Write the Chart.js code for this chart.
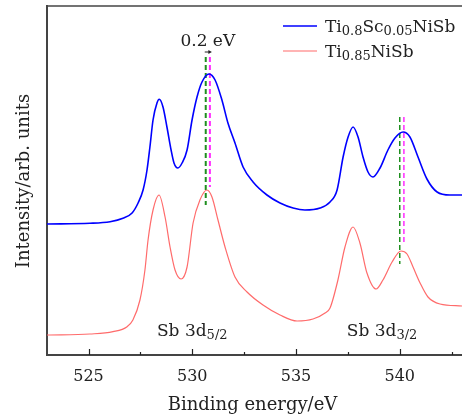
<!DOCTYPE html>
<html>
<head>
<meta charset="utf-8">
<script src="https://cdn.jsdelivr.net/npm/chart.js@4.4.0/dist/chart.umd.min.js"></script>
<style>
  html, body { margin: 0; padding: 0; background: #fff; }
</style>
</head>
<body>
<canvas id="chart" width="462" height="416"></canvas>
<script>
// Sb 3d XPS spectra (intensity in arbitrary units)
const blueEnergy = [523.00, 525.07, 526.04, 526.66, 527.10, 527.39, 527.63, 527.82, 527.96, 528.11,
    528.30, 528.41, 528.59, 528.78, 528.98, 529.12, 529.31, 529.51, 529.75, 529.99,
    530.23, 530.47, 530.81, 531.10, 531.43, 531.72, 532.06, 532.45, 532.93, 533.60,
    534.23, 534.86, 535.43, 536.16, 536.64, 536.98, 537.27, 537.51, 537.75, 537.99,
    538.23, 538.47, 538.71, 539.05, 539.43, 539.77, 540.16, 540.49, 540.88, 541.31,
    541.80, 542.42, 543.00]
const blueIntensity = [131, 131.7, 133.3, 136.7, 142, 152, 165, 185, 208, 235,
    252, 255.7, 248, 228, 205, 192, 187, 192, 205, 235,
    258, 273, 281, 275, 255, 232, 212, 188, 173, 160,
    152, 147, 145, 147, 153, 165, 198, 218, 228, 218,
    198, 183, 178, 187, 205, 217, 223, 218, 198, 176,
    163, 160, 160]

const redEnergy = [523.00, 525.07, 526.18, 526.86, 527.14, 527.48, 527.72, 527.87, 528.11, 528.40,
    528.69, 528.93, 529.17, 529.46, 529.75, 530.04, 530.37, 530.71, 530.95, 531.24,
    531.58, 532.06, 532.64, 533.41, 534.23, 535.05, 535.82, 536.40, 536.64, 537.02,
    537.36, 537.75, 538.08, 538.42, 538.86, 539.19, 539.63, 540.06, 540.35, 540.64,
    540.98, 541.36, 541.94, 543.00]
const redIntensity = [20, 21, 23.3, 28.3, 35, 55, 85, 115, 145, 160,
    138, 108, 85, 76, 88, 132, 155, 165, 158, 135,
    108, 78, 63, 50, 40, 34, 36, 42, 47, 75,
    108, 128, 112, 82, 66, 75, 93, 104, 101, 88,
    72, 58, 51, 49]

// peak markers: [3d5/2, 3d3/2]
const greenPeak = [530.65, 540.0]
const pinkPeak = [530.85, 540.2]
const markerTop = [298, 238]
const greenBottom = [150, 91]
const pinkBottom = [168, 111]

const majorTicks = [525, 530, 535, 540]
const minorTicks = [527.5, 532.5, 537.5, 542.5]

const serif = "'DejaVu Serif', serif"
const blue = '#0000ff'
const red = '#ff6b6b'
const green = '#1f8f1f'
const pink = '#ff2bff'

function points(xs, ys) {
    return xs.map((x, i) => ({ x: x, y: ys[i] }))
}

function marker(e, top, bottom, color, width) {
    return {
        data: [{ x: e, y: top }, { x: e, y: bottom }],
        borderColor: color,
        borderWidth: width,
        borderDash: [5, 3],
        pointRadius: 0,
        fill: false,
    }
}

// draws text with subscripts: parts = [[text, isSub], ...]
function richText(ctx, parts, x, y, size, align) {
    const subSize = Math.round(size * 0.74)
    let total = 0
    parts.forEach(([t, sub]) => {
        ctx.font = (sub ? subSize : size) + 'px ' + serif
        total += ctx.measureText(t).width
    })
    let cx = align === 'center' ? x - total / 2 : x
    ctx.textAlign = 'left'
    ctx.textBaseline = 'alphabetic'
    parts.forEach(([t, sub]) => {
        ctx.font = (sub ? subSize : size) + 'px ' + serif
        ctx.fillText(t, cx, sub ? y + 3 : y)
        cx += ctx.measureText(t).width
    })
}

const decorations = {
    id: 'decorations',
    afterDraw(chart) {
        const { ctx, chartArea } = chart
        const xs = chart.scales.x
        const ys = chart.scales.y
        ctx.save()
        // top frame line
        ctx.strokeStyle = '#444'
        ctx.lineWidth = 1.5
        ctx.beginPath()
        ctx.moveTo(chartArea.left, chartArea.top)
        ctx.lineTo(chartArea.right, chartArea.top)
        ctx.stroke()
        // inward ticks on the energy axis
        ctx.lineWidth = 1.2
        ctx.strokeStyle = '#222'
        majorTicks.forEach(v => {
            const px = Math.round(xs.getPixelForValue(v)) + 0.5
            ctx.beginPath()
            ctx.moveTo(px, chartArea.bottom)
            ctx.lineTo(px, chartArea.bottom - 6)
            ctx.stroke()
        })
        minorTicks.forEach(v => {
            const px = Math.round(xs.getPixelForValue(v)) + 0.5
            ctx.beginPath()
            ctx.moveTo(px, chartArea.bottom)
            ctx.lineTo(px, chartArea.bottom - 3)
            ctx.stroke()
        })

        ctx.fillStyle = '#222'
        // 0.2 eV shift arrow
        const ax0 = xs.getPixelForValue(greenPeak[0])
        const ax1 = xs.getPixelForValue(pinkPeak[0])
        const ay = ys.getPixelForValue(303)
        ctx.lineWidth = 1
        ctx.beginPath()
        ctx.moveTo(ax0 - 1, ay)
        ctx.lineTo(ax1, ay)
        ctx.stroke()
        ctx.beginPath()
        ctx.moveTo(ax1 + 2, ay)
        ctx.lineTo(ax1 - 1.5, ay - 2)
        ctx.lineTo(ax1 - 1.5, ay + 2)
        ctx.closePath()
        ctx.fill()
        ctx.font = '17px ' + serif
        ctx.textAlign = 'center'
        ctx.textBaseline = 'alphabetic'
        ctx.fillText('0.2 eV', (ax0 + ax1) / 2, ys.getPixelForValue(309))

        // peak labels
        richText(ctx, [['Sb 3d', false], ['5/2', true]], xs.getPixelForValue(530.0), ys.getPixelForValue(19), 17, 'center')
        richText(ctx, [['Sb 3d', false], ['3/2', true]], xs.getPixelForValue(539.15), ys.getPixelForValue(19), 17, 'center')

        // legend
        ctx.lineWidth = 1.6
        ctx.strokeStyle = blue
        ctx.beginPath()
        ctx.moveTo(283, 26)
        ctx.lineTo(317, 26)
        ctx.stroke()
        ctx.lineWidth = 1.2
        ctx.strokeStyle = red
        ctx.beginPath()
        ctx.moveTo(283, 51)
        ctx.lineTo(317, 51)
        ctx.stroke()
        ctx.fillStyle = '#222'
        richText(ctx, [['Ti', false], ['0.8', true], ['Sc', false], ['0.05', true], ['NiSb', false]], 325, 32, 17, 'left')
        richText(ctx, [['Ti', false], ['0.85', true], ['NiSb', false]], 325, 57, 17, 'left')

        // axis titles
        ctx.font = '18px ' + serif
        ctx.textAlign = 'center'
        ctx.textBaseline = 'middle'
        ctx.fillText('Binding energy/eV', (chartArea.left + chartArea.right) / 2 - 2, 405)
        ctx.translate(24, 181)
        ctx.rotate(-Math.PI / 2)
        ctx.fillText('Intensity/arb. units', 0, 0)
        ctx.restore()
    }
}

new Chart(document.getElementById('chart'), {
    type: 'line',
    data: {
        datasets: [
            {
                data: points(blueEnergy, blueIntensity),
                borderColor: blue,
                borderWidth: 1.6,
                pointRadius: 0,
                cubicInterpolationMode: 'monotone',
                fill: false,
            },
            {
                data: points(redEnergy, redIntensity),
                borderColor: red,
                borderWidth: 1.2,
                pointRadius: 0,
                cubicInterpolationMode: 'monotone',
                fill: false,
            },
            marker(greenPeak[0], markerTop[0], greenBottom[0], green, 2),
            marker(pinkPeak[0], markerTop[0], pinkBottom[0], pink, 2),
            marker(greenPeak[1], markerTop[1], greenBottom[1], green, 1.5),
            marker(pinkPeak[1], markerTop[1], pinkBottom[1], pink, 1.5),
        ]
    },
    options: {
        responsive: false,
        animation: false,
        layout: { padding: { top: 6, right: 0, bottom: 0, left: 0 } },
        plugins: {
            legend: { display: false },
            tooltip: { enabled: false },
        },
        scales: {
            x: {
                type: 'linear',
                min: 523,
                max: 543,
                afterBuildTicks: scale => { scale.ticks = majorTicks.map(v => ({ value: v })) },
                afterFit: scale => { scale.height = 61 },
                grid: { display: false, drawTicks: false },
                border: { display: true, color: '#444', width: 2 },
                ticks: {
                    color: '#222',
                    font: { family: serif, size: 16 },
                    padding: 12,
                    maxRotation: 0,
                },
            },
            y: {
                min: 0,
                max: 349,
                afterFit: scale => { scale.width = 47 },
                grid: { display: false, drawTicks: false },
                border: { display: true, color: '#444', width: 2 },
                ticks: { display: false },
            }
        }
    },
    plugins: [decorations],
})
</script>
</body>
</html>
